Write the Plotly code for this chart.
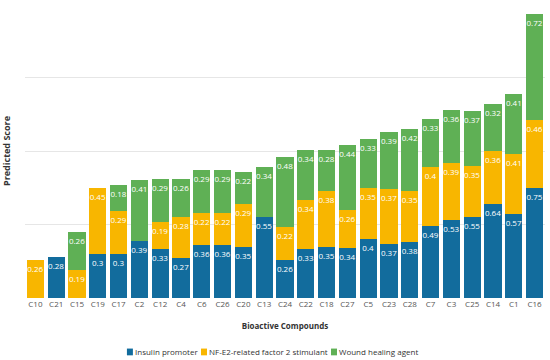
import plotly.graph_objects as go

compounds = ["C10", "C21", "C15", "C19", "C17", "C2", "C12", "C4", "C6", "C26", "C20", "C13", "C24",
             "C22", "C18", "C27", "C5", "C23", "C28", "C7", "C3", "C25", "C14", "C1", "C16"]
insulin = [0, 0.28, 0, 0.3, 0.3, 0.39, 0.33, 0.27, 0.36, 0.36, 0.35, 0.55, 0.26,
           0.33, 0.35, 0.34, 0.4, 0.37, 0.38, 0.49, 0.53, 0.55, 0.64, 0.57, 0.75]
nrf2 = [0.26, 0, 0.19, 0.45, 0.29, 0, 0.19, 0.28, 0.22, 0.22, 0.29, 0, 0.22,
        0.34, 0.38, 0.26, 0.35, 0.37, 0.35, 0.4, 0.39, 0.35, 0.36, 0.41, 0.46]
wound = [0, 0, 0.26, 0, 0.18, 0.41, 0.29, 0.26, 0.29, 0.29, 0.22, 0.34, 0.48,
         0.34, 0.28, 0.44, 0.33, 0.39, 0.42, 0.33, 0.36, 0.37, 0.32, 0.41, 0.72]

series_names = ["Insulin promoter", "NF-E2-related factor 2 stimulant", "Wound healing agent"]
series_values = [insulin, nrf2, wound]
series_colors = ["#126c9d", "#f8b600", "#5fb055"]

fig = go.Figure()
for name, vals, color in zip(series_names, series_values, series_colors):
    ys = [v if v else None for v in vals]
    txt = [f"{v:g}" if v else "" for v in vals]
    fig.add_trace(go.Bar(
        name=name, x=compounds, y=ys, text=txt,
        marker=dict(color=color, line=dict(width=0)),
        textposition="inside", insidetextanchor="end", textangle=0,
        textfont=dict(color="white", size=8, family="Open Sans"),
        showlegend=False,
    ))

# compact legend (small squares + labels) below the chart, in paper coordinates
legend_sq = [0.196, 0.3385, 0.5885]
for lx, name, color in zip(legend_sq, series_names, series_colors):
    fig.add_shape(type="rect", xref="paper", yref="paper",
                  x0=lx, x1=lx + 0.0115, y0=-0.195, y1=-0.172,
                  fillcolor=color, line=dict(width=0))
    fig.add_annotation(xref="paper", yref="paper", x=lx + 0.0135, y=-0.1835,
                       xanchor="left", yanchor="middle", showarrow=False,
                       text=name, font=dict(size=8, color="#333"), borderpad=0)

fig.update_layout(
    barmode="stack",
    bargap=0.17,
    width=550, height=360,
    margin=dict(l=25, r=5, t=4, b=62),
    plot_bgcolor="white", paper_bgcolor="white",
    font=dict(family="Open Sans", size=8, color="#444"),
    uniformtext=dict(minsize=8, mode="show"),
    showlegend=False,
    xaxis=dict(title=dict(text="<b>Bioactive Compounds</b>", font=dict(size=8, color="#333")),
               tickfont=dict(size=8, color="#555"), showgrid=False, ticks="", automargin=False),
    yaxis=dict(title=dict(text="<b>Predicted Score</b>", font=dict(size=9, color="#333")),
               range=[0, 2], dtick=0.5, showticklabels=False, gridcolor="#e6e6e6",
               zeroline=False, showline=False, automargin=False),
)

fig.write_html("out.html", config={"displayModeBar": False},
               post_script="document.body.style.margin='0';")
